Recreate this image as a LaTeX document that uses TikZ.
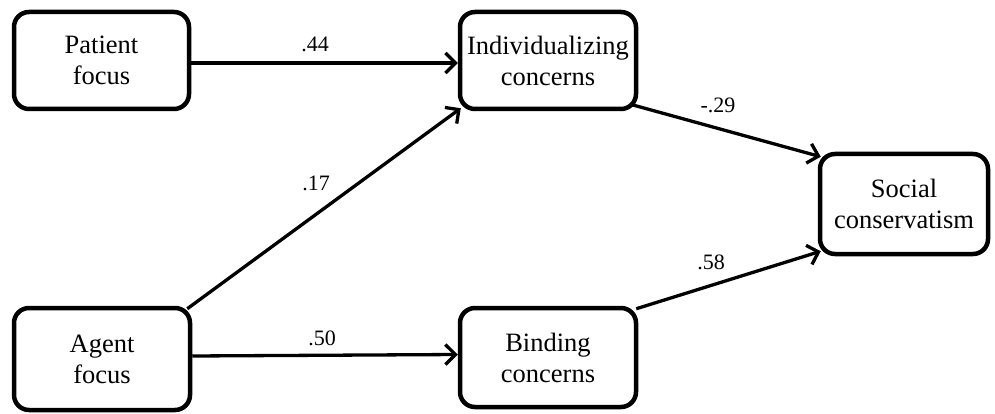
\documentclass[tikz,border=0pt]{standalone}
\usepackage{fontspec}
\setmainfont{Liberation Serif}
\usetikzlibrary{arrows.meta}
\begin{document}
\begin{tikzpicture}[x=1pt,y=-1pt,
  box/.style={draw=black, line width=4.5pt, rounded corners=15pt, fill=white,
    align=center, inner sep=0pt, font=\fontsize{26.5}{31}\selectfont},
  path/.style={line width=3.3pt, -{Straight Barb[length=10pt,width=20pt,line width=3.3pt]}},
  coef/.style={font=\fontsize{22}{26}\selectfont, inner sep=0pt}]
\useasboundingbox (0,0) rectangle (995,414);
\node[box, minimum width=175pt, minimum height=97pt] (P) at (101.5,60.5) {Patient\\focus};
\node[box, minimum width=176pt, minimum height=97pt] (I) at (548,60.5) {Individualizing\\concerns};
\node[box, minimum width=168pt, minimum height=100pt] (S) at (904,204) {Social\\conservatism};
\node[box, minimum width=176pt, minimum height=102pt] (A) at (102,359) {Agent\\focus};
\node[box, minimum width=176pt, minimum height=99pt] (B) at (548,357.5) {Binding\\concerns};
\draw[path] ([yshift=-2.5pt]P.east) -- ([yshift=-2.5pt]I.west);
\draw[path] ([xshift=-5pt,yshift=-3pt]A.north east) -- ([xshift=3pt,yshift=3pt]I.south west);
\draw[path] ([yshift=3pt]A.east) -- ([yshift=3pt]B.west);
\draw[path] ([xshift=-8pt,yshift=7pt]I.south east) -- ([xshift=3pt,yshift=-5pt]S.north west);
\draw[path] ([xshift=-2pt,yshift=-3pt]B.north east) -- ([xshift=3pt,yshift=5pt]S.south west);
\node[coef] (l1) at (315,44) {.44};
\node[coef] (l2) at (316,183) {.17};
\node[coef] (l3) at (322,338) {.50};
\node[coef] (l4) at (718,105) {-.29};
\node[coef] (l5) at (711,262) {.58};
\end{tikzpicture}
\end{document}
